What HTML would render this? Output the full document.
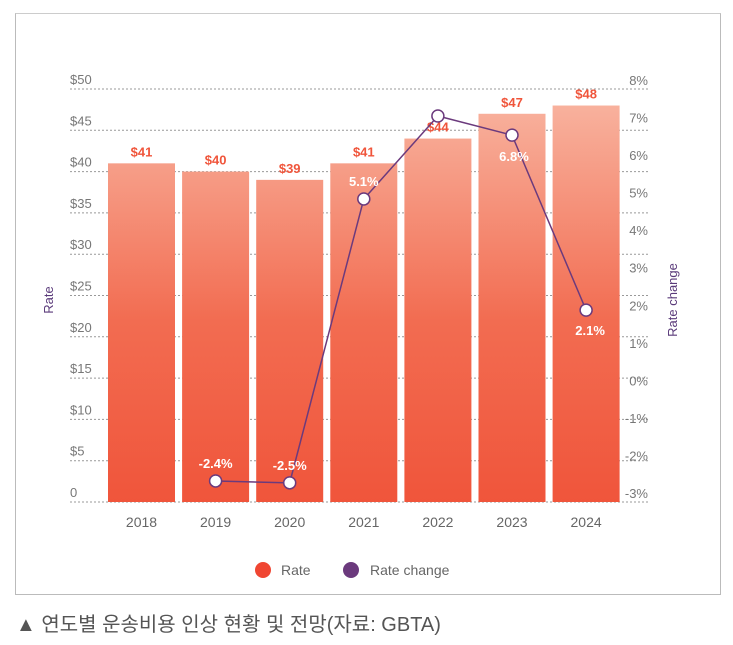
<!DOCTYPE html>
<html><head><meta charset="utf-8"><style>
body{margin:0;background:#fff;width:733px;height:645px;overflow:hidden;font-family:"Liberation Sans","Noto Sans CJK KR",sans-serif}
#frame{position:absolute;left:15px;top:13px;width:704px;height:580px;border:1.5px solid #bbb;border-top-color:#ccc}
#caption{position:absolute;left:16px;top:608px;font-size:20px;color:#555}
</style></head><body>
<div id="frame"></div>
<svg id="chart" width="733" height="645" style="position:absolute;left:0;top:0">
<defs><linearGradient id="bg" gradientUnits="userSpaceOnUse" x1="0" y1="100" x2="0" y2="502">
<stop offset="0" stop-color="#f8b39f"/><stop offset="0.55" stop-color="#f26c51"/><stop offset="1" stop-color="#f0553b"/></linearGradient></defs>
</svg>
<div id="caption">▲ 연도별 운송비용 인상 현황 및 전망(자료: GBTA)</div>
<script>
const years=["2018","2019","2020","2021","2022","2023","2024"];
const rates=[41,40,39,41,44,47,48];
const rateLabels=["$41","$40","$39","$41","$44","$47","$48"];
const changeYears=["2019","2020","2021","2022","2023","2024"];
const changes=[-2.44,-2.49,5.07,7.28,6.77,2.11];
const changeLabels=["-2.4%","-2.5%","5.1%","","6.8%","2.1%"];
const leftTicks=[0,5,10,15,20,25,30,35,40,45,50];
const leftTickLabels=["0","$5","$10","$15","$20","$25","$30","$35","$40","$45","$50"];
const rightTicks=[-3,-2,-1,0,1,2,3,4,5,6,7,8];
const rightTickLabels=["-3%","-2%","-1%","0%","1%","2%","3%","4%","5%","6%","7%","8%"];
const NS="http://www.w3.org/2000/svg";
const svg=document.getElementById('chart');
const yL=v=>502-v*8.26;
const yR=p=>502-(p+3)*37.55;
const xC=i=>141.5+i*74.1;
const bw=67;
function mk(t,a,p){const e=document.createElementNS(NS,t);for(const k in a)e.setAttribute(k,a[k]);(p||svg).appendChild(e);return e;}
leftTicks.forEach((v,i)=>{
 const g=mk('line',{x1:70,x2:650,y1:yL(v),y2:yL(v),stroke:'#999','stroke-dasharray':'2,2','stroke-width':1});
 
 
 const t=mk('text',{x:70,y:yL(v)-5,'font-size':13,fill:'#777'});t.textContent=leftTickLabels[i];
 
 
});
rightTicks.forEach((p,i)=>{
 const t=mk('text',{x:648,y:yR(p)-4,'font-size':13,fill:'#777','text-anchor':'end'});t.textContent=rightTickLabels[i];
 
 
});
rates.forEach((v,i)=>{
 const r=mk('rect',{x:xC(i)-bw/2,y:yL(v),width:bw,height:502-yL(v),fill:'url(#bg)'});
 
 
 const t=mk('text',{x:xC(i),y:yL(v)-7,'font-size':13,'font-weight':'bold',fill:'#f0553b','text-anchor':'middle'});t.textContent=rateLabels[i];
 
 
 const x=mk('text',{x:xC(i),y:527,'font-size':14,fill:'#666','text-anchor':'middle'});x.textContent=years[i];
 
 
});
const pts=changes.map((c,i)=>[xC(years.indexOf(changeYears[i])),yR(c)]);
const pl=mk('polyline',{points:pts.map(p=>p.join(',')).join(' '),fill:'none',stroke:'#6b3a7d','stroke-width':1.5});


const offs=[[0,-13],[0,-13],[0,-13],[0,0],[2,26],[4,25]];
pts.forEach((p,i)=>{
 const c=mk('circle',{cx:p[0],cy:p[1],r:6,fill:'#fff',stroke:'#6b3a7d','stroke-width':1.5});
 
 
 if(changeLabels[i]){
 const t=mk('text',{x:p[0]+offs[i][0],y:p[1]+offs[i][1],'font-size':13,'font-weight':'bold',fill:'#fff','text-anchor':'middle'});t.textContent=changeLabels[i];
 
 }
});
let t=mk('text',{x:0,y:0,'font-size':13,fill:'#5a3a7a','text-anchor':'middle',transform:'translate(53,300) rotate(-90)'});t.textContent='Rate';


t=mk('text',{x:0,y:0,'font-size':13,fill:'#5a3a7a','text-anchor':'middle',transform:'translate(677,300) rotate(-90)'});t.textContent='Rate change';


let c=mk('circle',{cx:263,cy:570,r:8,fill:'#f04632'});


t=mk('text',{x:281,y:575,'font-size':14,fill:'#666'});t.textContent='Rate';


c=mk('circle',{cx:351,cy:570,r:8,fill:'#6b3a7d'});


t=mk('text',{x:370,y:575,'font-size':14,fill:'#666'});t.textContent='Rate change';


</script>
</body></html>
